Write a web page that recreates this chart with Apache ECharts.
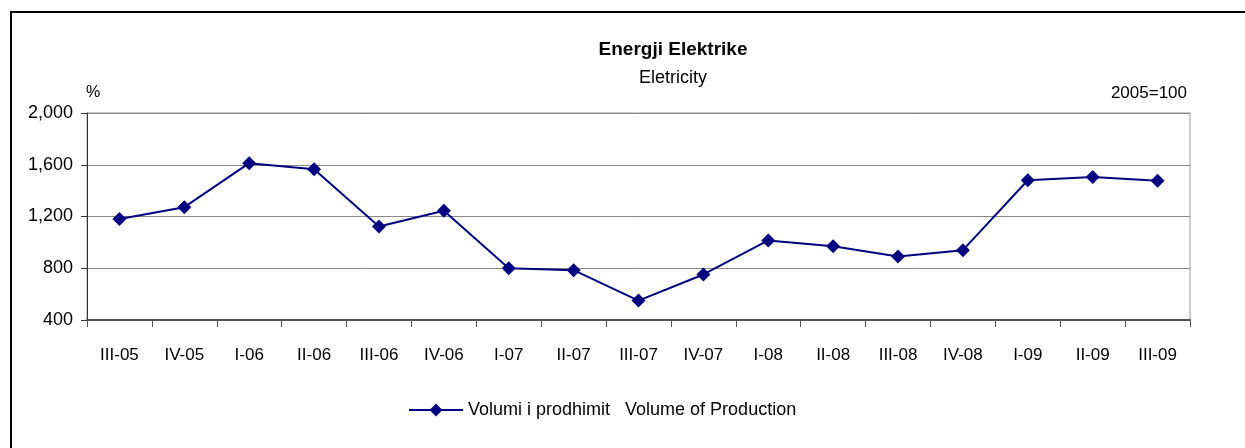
<!DOCTYPE html>
<html>
<head>
<meta charset="utf-8">
<script src="https://cdn.jsdelivr.net/npm/echarts@6/dist/echarts.min.js"></script>
<style>
  html, body { margin: 0; padding: 0; background: #fff; }
  #frame { position: absolute; left: 10px; top: 11px; width: 1250px; height: 450px;
           border-left: 2px solid #000; border-top: 2px solid #000; }
  #main { position: absolute; left: 0; top: 0; width: 1245px; height: 448px; }
</style>
</head>
<body>
<div id="frame"></div>
<div id="main"></div>
<script>
// kategorite (tremujoret)
const quarters = ['III-05', 'IV-05', 'I-06', 'II-06', 'III-06', 'IV-06', 'I-07', 'II-07', 'III-07',
    'IV-07', 'I-08', 'II-08', 'III-08', 'IV-08', 'I-09', 'II-09', 'III-09']
// volumi i prodhimit, 2005=100
const production = [1180, 1272, 1612, 1566, 1123, 1245, 800, 785, 550,
    752, 1015, 970, 890, 940, 1480, 1505, 1477]
const seriesName = 'Volumi i prodhimit   Volume of Production'

const font = 'Liberation Sans, Arial, sans-serif'
const navy = '#000080'

let chart = echarts.init(document.getElementById('main'))
let option = {
    animation: false,
    textStyle: { fontFamily: font },
    title: [
        { text: 'Energji Elektrike', left: 668, top: 35, textAlign: 'center',
          textStyle: { fontSize: 19, fontWeight: 'bold', color: '#000', fontFamily: font } },
        { text: 'Eletricity', left: 668, top: 64, textAlign: 'center',
          textStyle: { fontSize: 18, fontWeight: 'normal', color: '#000', fontFamily: font } },
        { text: '%', left: 81, top: 80,
          textStyle: { fontSize: 16, fontWeight: 'normal', color: '#000', fontFamily: font } },
        { text: '2005=100', right: 53, top: 80,
          textStyle: { fontSize: 17, fontWeight: 'normal', color: '#000', fontFamily: font } }
    ],
    legend: {
        data: [seriesName],
        left: 403, top: 396,
        itemWidth: 54, itemHeight: 16, itemGap: 4,
        textStyle: { fontSize: 18, color: '#000', fontFamily: font }
    },
    grid: {
        left: 87, right: 55, top: 113, bottom: 128,
        show: true, borderColor: '#999', borderWidth: 1
    },
    xAxis: {
        type: 'category',
        data: quarters,
        boundaryGap: true,
        axisLine: { lineStyle: { color: '#555', width: 2 } },
        axisTick: { show: true, interval: 0, length: 7, lineStyle: { color: '#555', width: 1 } },
        axisLabel: { interval: 0, margin: 27, fontSize: 17, color: '#000' }
    },
    yAxis: {
        type: 'value',
        min: 400, max: 2000, interval: 400,
        axisLine: { show: true, lineStyle: { color: '#333', width: 1 } },
        axisTick: { show: true, length: 6, lineStyle: { color: '#333' } },
        axisLabel: {
            margin: 14, fontSize: 18, color: '#000',
            formatter: v => v.toLocaleString('en-US')
        },
        splitLine: { lineStyle: { color: '#888', width: 1 } }
    },
    series: [{
        name: seriesName,
        type: 'line',
        data: production,
        symbol: 'diamond',
        symbolSize: 14,
        lineStyle: { color: navy, width: 2 },
        itemStyle: { color: navy },
        emphasis: { disabled: true }
    }]
}
chart.setOption(option)
</script>
</body>
</html>
